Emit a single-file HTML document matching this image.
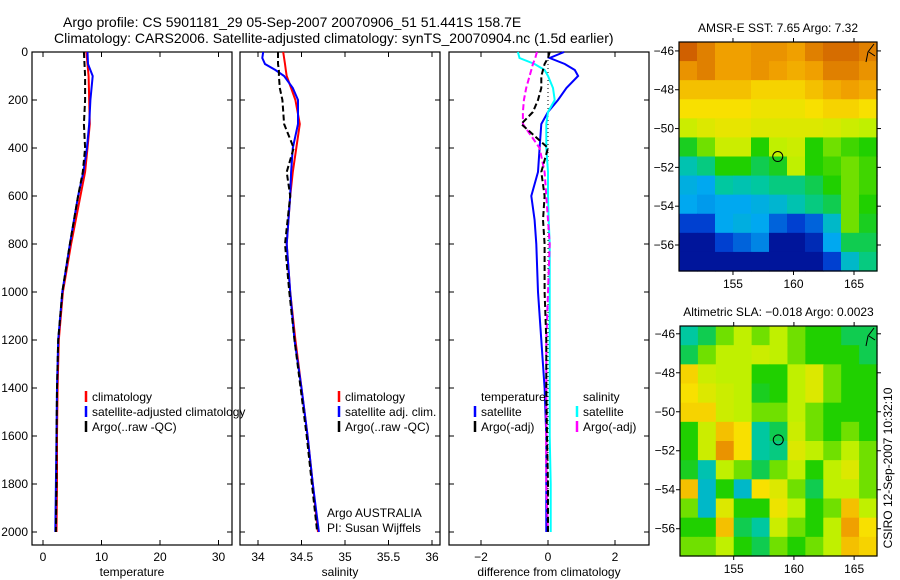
<!DOCTYPE html>
<html><head><meta charset="utf-8"><style>
body{margin:0;background:#fff;}
svg{display:block;font-family:"Liberation Sans",sans-serif;}
</style></head><body>
<svg id="fig" width="900" height="580" viewBox="0 0 900 580" xmlns="http://www.w3.org/2000/svg">
<rect width="900" height="580" fill="#fff"/>
<text x="63" y="27" font-size="14">Argo profile: CS 5901181_29 05-Sep-2007 20070906_51 51.441S 158.7E</text>
<text x="54" y="43" font-size="14">Climatology: CARS2006. Satellite-adjusted climatology: synTS_20070904.nc (1.5d earlier)</text>
<g id="plots"></g>
</svg>
<script>
// ---- profile data ----
const tDepths = [0,50,100,200,300,400,500,600,800,1000,1200,1400,1600,1800,2000];
const tClim   = [7.4,7.6,7.8,7.9,8.0,7.6,7.2,6.4,4.8,3.4,2.7,2.5,2.4,2.4,2.3];
const tSatClim= [7.6,7.7,8.5,8.1,7.9,7.5,6.9,6.0,4.6,3.3,2.6,2.4,2.3,2.2,2.1];
const tArgo   = [7.0,7.1,7.2,7.2,7.0,7.2,6.8,6.0,4.6,3.3,2.6,2.4,2.3,2.3,2.2];
const sDepths = [0,25,50,75,100,150,200,300,400,500,600,800,1000,1200,1400,1600,1800,2000];
const sSatClim= [34.06,34.05,34.08,34.2,34.3,34.4,34.46,34.46,34.4,34.38,34.37,34.33,34.37,34.42,34.5,34.57,34.63,34.7];
const sClim   = [34.29,34.3,34.31,34.32,34.33,34.38,34.43,34.48,34.44,34.4,34.37,34.33,34.37,34.43,34.5,34.57,34.63,34.69];
const sArgo   = [34.23,34.23,34.23,34.24,34.24,34.25,34.28,34.3,34.41,34.33,34.37,34.31,34.36,34.42,34.49,34.56,34.62,34.68];
const dDepths = [0,25,50,75,100,150,200,250,300,400,500,600,700,800,1000,1200,1400,1600,1800,2000];
const dTSat   = [0.48,0.05,0.5,0.8,0.9,0.55,0.3,0,-0.2,-0.25,-0.3,-0.5,-0.4,-0.35,-0.3,-0.2,-0.1,-0.05,-0.05,-0.05];
const dSSat   = [-0.9,-0.85,-0.4,-0.1,0,0.15,0.2,0,-0.05,-0.05,0,0,0.02,0.05,0.05,0.05,0.05,0.05,0.08,0.08];
const dSArgo  = [-0.33,-0.38,-0.45,-0.5,-0.55,-0.65,-0.72,-0.75,-0.75,-0.25,-0.1,-0.05,0,0.05,0,-0.05,-0.05,-0.05,-0.05,0];
const dTArgo  = [0.05,0,-0.1,-0.15,-0.2,-0.2,-0.3,-0.45,-0.8,0,-0.2,-0.1,-0.15,-0.1,-0.1,-0.05,-0.05,-0.03,0,0];
const depthTicks = [0,200,400,600,800,1000,1200,1400,1600,1800,2000];
const tempTicks = [0,10,20,30];
const salTicks = [34,34.5,35,35.5,36];
const diffTicks = [-2,0,2];
// ---- map data (normalised colour value, rows north->south) ----
const sstGrid = [
[0.9,0.85,0.8,0.8,0.82,0.82,0.8,0.85,0.88,0.88,0.85],
[0.82,0.85,0.8,0.8,0.82,0.8,0.78,0.8,0.85,0.85,0.82],
[0.75,0.75,0.75,0.75,0.72,0.72,0.72,0.75,0.78,0.8,0.78],
[0.7,0.7,0.7,0.7,0.68,0.68,0.68,0.7,0.72,0.72,0.7],
[0.62,0.65,0.67,0.67,0.65,0.65,0.65,0.65,0.64,0.62,0.6],
[0.48,0.55,0.62,0.62,0.5,0.6,0.62,0.5,0.55,0.52,0.5],
[0.38,0.42,0.5,0.5,0.45,0.48,0.6,0.5,0.52,0.55,0.52],
[0.32,0.3,0.4,0.38,0.4,0.42,0.42,0.45,0.5,0.55,0.52],
[0.3,0.28,0.3,0.3,0.32,0.34,0.38,0.42,0.45,0.55,0.5],
[0.15,0.15,0.3,0.32,0.3,0.2,0.15,0.2,0.35,0.55,0.48],
[0.05,0.05,0.15,0.2,0.25,0.05,0.05,0.1,0.3,0.45,0.45],
[0.05,0.05,0.05,0.05,0.05,0.05,0.05,0.05,0.15,0.35,0.42]];
const slaGrid = [
[0.4,0.45,0.55,0.6,0.55,0.6,0.55,0.5,0.5,0.45,0.45],
[0.45,0.55,0.6,0.6,0.62,0.6,0.55,0.5,0.5,0.5,0.45],
[0.72,0.62,0.6,0.6,0.5,0.5,0.6,0.65,0.55,0.5,0.5],
[0.7,0.65,0.62,0.6,0.48,0.5,0.6,0.65,0.55,0.5,0.5],
[0.72,0.72,0.62,0.6,0.55,0.55,0.6,0.55,0.5,0.5,0.5],
[0.5,0.62,0.75,0.7,0.4,0.45,0.62,0.55,0.5,0.55,0.5],
[0.5,0.62,0.82,0.7,0.4,0.42,0.65,0.6,0.55,0.6,0.55],
[0.48,0.38,0.6,0.55,0.45,0.55,0.6,0.5,0.6,0.65,0.55],
[0.75,0.35,0.5,0.35,0.7,0.65,0.55,0.45,0.6,0.6,0.55],
[0.55,0.35,0.65,0.5,0.5,0.68,0.6,0.5,0.55,0.75,0.6],
[0.5,0.5,0.75,0.45,0.4,0.62,0.55,0.5,0.6,0.8,0.7],
[0.55,0.55,0.6,0.5,0.45,0.55,0.5,0.55,0.6,0.75,0.72]];
const lonTicks = [155,160,165];
const latTicks = [-46,-48,-50,-52,-54,-56];
const argoLon = 158.7, argoLat = -51.441;

const NS="http://www.w3.org/2000/svg";
const root=document.getElementById('plots');
function mk(tag,attrs,parent){const e=document.createElementNS(NS,tag);for(const k in attrs)e.setAttribute(k,attrs[k]);(parent||root).appendChild(e);return e;}
function txt(s,x,y,anchor,size,parent){const e=mk('text',{x:x,y:y,'text-anchor':anchor||'start','font-size':size||12},parent);e.textContent=s;return e;}

const Y=d=>52+d*0.24;
const panels=[
 {name:'temperature-panel',x0:32,x1:232,fx:v=>43+v*5.85,ticks:tempTicks,label:'temperature'},
 {name:'salinity-panel',x0:240,x1:440,fx:v=>258+(v-34)*87,ticks:salTicks,label:'salinity'},
 {name:'difference-panel',x0:449,x1:649,fx:v=>548+v*33.5,ticks:diffTicks,label:'difference from climatology'}];
panels.forEach((p,i)=>{
 const g=mk('g',{});
 
 
 mk('rect',{x:p.x0,y:52,width:p.x1-p.x0,height:493,fill:'none',stroke:'#000','stroke-width':1.2},g);
 p.ticks.forEach(t=>{const x=p.fx(t);mk('line',{x1:x,x2:x,y1:545,y2:540,stroke:'#000'},g);mk('line',{x1:x,x2:x,y1:52,y2:57,stroke:'#000'},g);
  const l=txt(String(t).replace('-','\u2212'),x,561,'middle',12,g);});
 depthTicks.forEach(d=>{const y=Y(d);mk('line',{x1:p.x0,x2:p.x0+5,y1:y,y2:y,stroke:'#000'},g);mk('line',{x1:p.x1,x2:p.x1-5,y1:y,y2:y,stroke:'#000'},g);
  if(i===0){const l=txt(String(d),28,y+4,'end',12,g);}});
 const xl=txt(p.label,(p.x0+p.x1)/2,576,'middle',12,g);
 
 
});
function line(depths,vals,fx,color,w,dash,name){
 const pts=depths.map((d,i)=>fx(vals[i]).toFixed(1)+','+Y(d).toFixed(1)).join(' ');
 const e=mk('polyline',{points:pts,fill:'none',stroke:color,'stroke-width':w});
 if(dash)e.setAttribute('stroke-dasharray',dash);
 
 
}
const f0=panels[0].fx,f1=panels[1].fx,f2=panels[2].fx;
line(tDepths,tClim,f0,'#f00',2,null,'temp-climatology-line');
line(tDepths,tSatClim,f0,'#00f',2,null,'temp-satellite-clim-line');
line(tDepths,tArgo,f0,'#000',2,'6,3','temp-argo-line');
line(sDepths,sClim,f1,'#f00',2,null,'sal-climatology-line');
line(sDepths,sSatClim,f1,'#00f',2,null,'sal-satellite-clim-line');
line(sDepths,sArgo,f1,'#000',2,'6,3','sal-argo-line');
mk('line',{x1:f2(0),x2:f2(0),y1:Y(0),y2:Y(2000),stroke:'#000','stroke-dasharray':'1,3'});
line(dDepths,dTSat,f2,'#00f',2,null,'diff-temp-satellite-line');
line(dDepths,dSSat,f2,'#0ff',2,null,'diff-sal-satellite-line');
line(dDepths,dSArgo,f2,'#f0f',2,'6,3','diff-sal-argo-line');
line(dDepths,dTArgo,f2,'#000',2,'6,3','diff-temp-argo-line');

function legend(x,y,color,label,name){
 const g=mk('g',{});
 
 
 if(color)mk('line',{x1:x,x2:x,y1:y-10,y2:y+1,stroke:color,'stroke-width':2.5},g);
 txt(label,x+6,y,'start',12,g);
}
legend(86,401,'#f00','climatology','legend-climatology');
legend(86,416,'#00f','satellite-adjusted climatology','legend-satellite-adjusted');
legend(86,431,'#000','Argo(..raw -QC)','legend-argo-raw');
legend(339,401,'#f00','climatology','legend-sal-climatology');
legend(339,416,'#00f','satellite adj. clim.','legend-sal-satellite');
legend(339,431,'#000','Argo(..raw -QC)','legend-sal-argo');
legend(475,401,null,'temperature','legend-temperature-header');
legend(475,416,'#00f','satellite','legend-temp-satellite');
legend(475,431,'#000','Argo(-adj)','legend-temp-argo');
legend(577,401,null,'salinity','legend-salinity-header');
legend(577,416,'#0ff','satellite','legend-sal-sat');
legend(577,431,'#f0f','Argo(-adj)','legend-sal-argo-adj');
const a1=txt('Argo AUSTRALIA',327,517,'start',12);
const a2=txt('PI: Susan Wijffels',327,532,'start',12);

// ---- maps ----
const stops=[[0,[0,0,128]],[0.15,[0,64,208]],[0.3,[0,168,240]],[0.4,[0,200,160]],[0.5,[32,208,0]],[0.6,[192,240,0]],[0.7,[248,224,0]],[0.8,[240,160,0]],[0.9,[208,96,0]],[1,[160,48,0]]];
function cmap(v){for(let i=1;i<stops.length;i++){if(v<=stops[i][0]){const a=stops[i-1],b=stops[i],t=(v-a[0])/(b[0]-a[0]);const c=a[1].map((x,k)=>Math.round(x+(b[1][k]-x)*t));return 'rgb('+c.join(',')+')';}}return 'rgb(160,48,0)';}
function map(m){
 const g=mk('g',{});
 
 
 const fx=lon=>m.x0+(lon-m.lon0)*(m.x1-m.x0)/(m.lon1-m.lon0);
 const fy=lat=>m.y0+(m.lat0-lat)*(m.y1-m.y0)/(m.lat0-m.lat1);
 const rows=m.grid.length,cols=m.grid[0].length,cw=(m.x1-m.x0)/cols,ch=(m.y1-m.y0)/rows;
 m.grid.forEach((r,ri)=>r.forEach((v,ci)=>{const c=mk('rect',{x:m.x0+ci*cw,y:m.y0+ri*ch,width:cw+0.6,height:ch+0.6,fill:cmap(v)},g);
  
  }));
 mk('rect',{x:m.x0,y:m.y0,width:m.x1-m.x0,height:m.y1-m.y0,fill:'none',stroke:'#000','stroke-width':1.2},g);
 lonTicks.forEach(l=>{const x=fx(l);mk('line',{x1:x,x2:x,y1:m.y0,y2:m.y0-4,stroke:'#000'},g);mk('line',{x1:x,x2:x,y1:m.y1,y2:m.y1+4,stroke:'#000'},g);txt(String(l),x,m.y1+17,'middle',12,g);});
 latTicks.forEach(l=>{const y=fy(l);mk('line',{x1:m.x0,x2:m.x0-4,y1:y,y2:y,stroke:'#000'},g);mk('line',{x1:m.x1,x2:m.x1+4,y1:y,y2:y,stroke:'#000'},g);txt(String(l).replace('-','\u2212'),m.x0-5,y+4,'end',12,g);});
 const c=mk('circle',{cx:fx(argoLon),cy:fy(argoLat),r:5,fill:'none',stroke:'#000','stroke-width':1},g);
 
 
 mk('path',{d:`M${m.x1-3},${m.y0+2} l-6,8 l-2,10 M${m.x1-8},${m.y0+10} l6,4`,stroke:'#000',fill:'none'},g);
 const t=txt(m.title,(m.x0+m.x1)/2,m.y0-10,'middle',12,g);
 
 
}
map({name:'sst-map',grid:sstGrid,x0:679,x1:877,y0:42,y1:271,lon0:150.54,lon1:166.9,lat0:-45.54,lat1:-57.34,title:'AMSR-E SST: 7.65 Argo: 7.32'});
map({name:'sla-map',grid:slaGrid,x0:680,x1:877,y0:326,y1:556,lon0:150.54,lon1:166.9,lat0:-45.6,lat1:-57.4,title:'Altimetric SLA: \u22120.018 Argo: 0.0023'});
const st=txt('CSIRO 12-Sep-2007 10:32:10',0,0,'middle',12);
st.setAttribute('transform','translate(892,468) rotate(-90)');


</script>
</body></html>
